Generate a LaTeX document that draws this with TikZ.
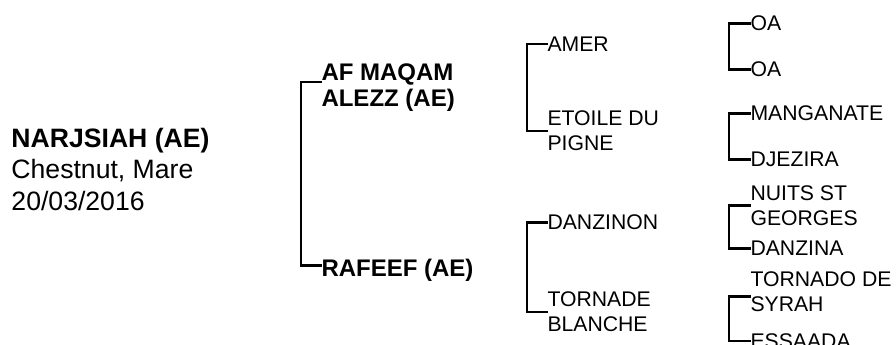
\documentclass[tikz,border=0pt]{standalone}
\usepackage{fontspec}
\setmainfont{Liberation Sans}
\begin{document}
\begin{tikzpicture}[x=1pt,y=-1pt,
  lbl/.style={anchor=west, inner sep=0pt, outer sep=0pt, align=left},
  gen1/.style={lbl, font=\fontsize{26.6}{31.5}\selectfont},
  gen2/.style={lbl, font=\fontsize{24}{26}\selectfont\bfseries},
  gen3/.style={lbl, font=\fontsize{21.2}{24.8}\selectfont},
  brk/.style={line width=2.3pt, line join=miter}]
\useasboundingbox (0,0) rectangle (896,345);
% column 1
\node[gen1] (horse) at (11.5,169) {\textbf{NARJSIAH (AE)}\\Chestnut, Mare\\20/03/2016};
% column 2
\node[gen2] (sire) at (321.5,87.3) {AF MAQAM\\ALEZZ (AE)};
\node[gen2] (dam) at (321.5,270.5) {RAFEEF (AE)};
% column 3
\node[gen3] (ss) at (547.5,44) {AMER};
\node[gen3] (sd) at (547.5,131) {ETOILE DU\\PIGNE};
\node[gen3] (ds) at (547.5,222.5) {DANZINON};
\node[gen3] (dd) at (547.5,312) {TORNADE\\BLANCHE};
% column 4
\node[gen3] (sss) at (750.5,23.5) {OA};
\node[gen3] (ssd) at (750.5,69.5) {OA};
\node[gen3] (sds) at (750.5,113.5) {MANGANATE};
\node[gen3] (sdd) at (750.5,159.5) {DJEZIRA};
\node[gen3] (dss) at (750.5,205.5) {NUITS ST\\GEORGES};
\node[gen3] (dsd) at (750.5,248.5) {DANZINA};
\node[gen3] (dds) at (750.5,292) {TORNADO DE\\SYRAH};
\node[gen3] (ddd) at (750.5,341) {ESSAADA};
% brackets
\draw[brk] ([yshift=5pt]sire.west) -- ++(-20.5,0) |- ([yshift=5pt]dam.west);
\draw[brk] (ss.west) -- ++(-20.5,0) |- (sd.west);
\draw[brk] (ds.west) -- ++(-20.5,0) |- (dd.west);
\draw[brk] (sss.west) -- ++(-21.5,0) |- (ssd.west);
\draw[brk] (sds.west) -- ++(-21.5,0) |- (sdd.west);
\draw[brk] (dss.west) -- ++(-21.5,0) |- (dsd.west);
\draw[brk] ([yshift=-4.5pt]dds.west) -- ++(-21.5,0) |- (ddd.west);
\end{tikzpicture}
\end{document}
